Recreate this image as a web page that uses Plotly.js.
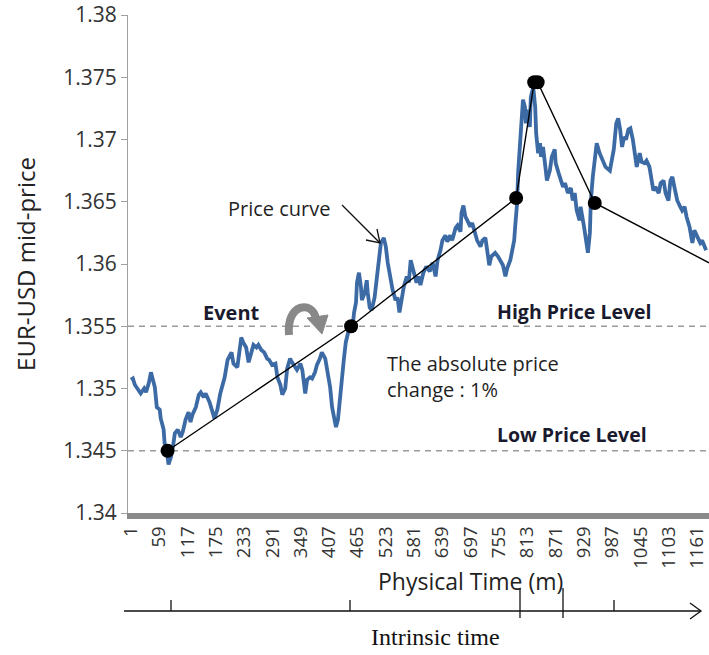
<!DOCTYPE html>
<html><head><meta charset="utf-8">
<script src="https://cdn.plot.ly/plotly-3.0.1.min.js"></script>
<style>html,body{margin:0;padding:0;background:#fff}#chart{width:709px;height:655px}</style>
</head><body><div id="chart"></div>
<script>
// Physical time (minutes) and EUR-USD mid-price
const minutes = [1,5,9,15,21,28,32,38,42,46,50,54,60,62,68,70,74,78,83,87,91,97,103,107,113,119,123,127,134,140,144,150,154,162,168,172,178,184,193,199,
207,211,219,223,227,231,237,242,248,252,258,262,268,274,280,284,290,297,301,307,311,317,321,327,331,337,341,348,352,358,362,368,372,378,382,388,392,399,403,409,413,417,
421,425,431,433,437,441,446,452,454,458,462,464,468,472,474,480,484,486,490,494,500,505,509,513,519,523,527,533,537,543,547,551,555,560,566,570,574,580,586,590,594,600,606,613,619,
625,629,635,639,645,649,655,659,666,670,676,678,682,686,690,696,700,706,710,717,721,727,731,735,739,747,753,759,763,768,772,778,782,786,788,792,
794,798,800,804,808,810,814,818,820,825,829,831,835,839,841,845,849,853,859,863,869,871,877,882,886,890,896,902,906,910,914,920,922,929,933,937,941,943,947,951,955,961,967,973,
982,986,990,995,999,1003,1007,1011,1015,1020,1024,1029,1033,1037,1043,1047,1053,1057,1063,1067,1071,1075,1082,1086,1092,1096,1102,1106,1110,1114,1120,1126,1130,1135,1139,1145,1147,1151,1155,1161,1167,1171,1175,1179];
const midPrice = [1.3507,1.3508,1.3503,1.3499,1.3496,1.3500,1.3497,1.3505,1.3513,1.3507,1.3501,1.3485,1.3483,1.3476,1.3467,1.3456,1.3451,1.3439,1.3445,1.3453,1.3464,1.3467,1.3461,1.3465,1.3475,1.3481,1.3473,1.3479,1.3485,1.3495,1.3497,1.3493,1.3496,1.3489,1.3480,1.3476,1.3483,1.3496,1.3509,1.3523,
1.3529,1.3520,1.3517,1.3531,1.3541,1.3537,1.3533,1.3521,1.3529,1.3535,1.3533,1.3535,1.3531,1.3529,1.3524,1.3523,1.3519,1.3520,1.3509,1.3503,1.3495,1.3500,1.3516,1.3524,1.3521,1.3517,1.3515,1.3520,1.3515,1.3496,1.3507,1.3509,1.3508,1.3513,1.3519,1.3524,1.3529,1.3524,1.3515,1.3501,1.3485,1.3477,
1.3469,1.3475,1.3501,1.3512,1.3523,1.3537,1.3545,1.3549,1.3545,1.3561,1.3569,1.3585,1.3593,1.3582,1.3571,1.3577,1.3587,1.3577,1.3565,1.3563,1.3573,1.3590,1.3603,1.3617,1.3621,1.3614,1.3601,1.3587,1.3579,1.3571,1.3573,1.3561,1.3571,1.3582,1.3590,1.3585,1.3603,1.3593,1.3585,1.3590,1.3583,1.3593,1.3598,1.3594,1.3601,
1.3590,1.3603,1.3611,1.3619,1.3623,1.3618,1.3623,1.3619,1.3629,1.3631,1.3626,1.3641,1.3647,1.3638,1.3635,1.3630,1.3633,1.3625,1.3619,1.3614,1.3619,1.3621,1.3611,1.3599,1.3606,1.3609,1.3606,1.3602,1.3599,1.3590,1.3597,1.3603,1.3611,1.3619,1.3630,1.3649,
1.3673,1.3697,1.3718,1.3732,1.3726,1.3713,1.3724,1.3710,1.3734,1.3742,1.3726,1.3705,1.3689,1.3697,1.3686,1.3694,1.3681,1.3667,1.3675,1.3686,1.3692,1.3681,1.3673,1.3667,1.3662,1.3665,1.3657,1.3661,1.3651,1.3657,1.3643,1.3635,1.3646,1.3630,1.3619,1.3609,1.3625,1.3651,1.3670,1.3686,1.3697,1.3689,1.3683,1.3678,
1.3675,1.3683,1.3692,1.3713,1.3717,1.3708,1.3694,1.3702,1.3700,1.3708,1.3709,1.3700,1.3686,1.3678,1.3689,1.3682,1.3681,1.3683,1.3678,1.3670,1.3659,1.3662,1.3657,1.3665,1.3667,1.3657,1.3651,1.3667,1.3670,1.3662,1.3651,1.3646,1.3643,1.3646,1.3638,1.3630,1.3625,1.3617,1.3627,1.3622,1.3617,1.3619,1.3614,1.3611];

// directional-change events (black dots) and the line joining them
const eventMinutes = [76, 452, 790, 827, 834, 951];
const eventPrices = [1.345, 1.355, 1.3653, 1.3746, 1.3746, 1.3649];
const trendMinutes = [76, 452, 790, 827, 834, 951, 1185];
const trendPrices = [1.345, 1.355, 1.3653, 1.3746, 1.3746, 1.3649, 1.3601];

const highPriceLevel = 1.355;
const lowPriceLevel = 1.345;

const xTickVals = [1,59,117,175,233,291,349,407,465,523,581,639,697,755,813,871,929,987,1045,1103,1161];
const yTickVals = [1.34,1.345,1.35,1.355,1.36,1.365,1.37,1.375,1.38];
const yTickText = ['1.34','1.345','1.35','1.355','1.36','1.365','1.37','1.375','1.38'];

// ---- layout helpers (pixel -> paper) ----
const L = 128, W = 581, B = 513, H = 498;
const px = x => (x - L) / W;
const py = y => (B - y) / H;
const pt = (x, y) => px(x).toFixed(5) + ',' + py(y).toFixed(5);
const FONT = 'Open Sans, sans-serif';
const TXT = '#1f1f1f';

const traces = [
  {x: minutes, y: midPrice, type: 'scatter', mode: 'lines',
   line: {color: '#3c6aa5', width: 3.8}, hoverinfo: 'skip', showlegend: false},
  {x: trendMinutes, y: trendPrices, type: 'scatter', mode: 'lines',
   line: {color: '#000', width: 1.4}, hoverinfo: 'skip', showlegend: false},
  {x: eventMinutes, y: eventPrices, type: 'scatter', mode: 'markers',
   marker: {color: '#000', size: 14}, hoverinfo: 'skip', showlegend: false}
];

function ann(text, x, y, opts) {
  return Object.assign({text: text, x: px(x), y: py(y), xref: 'paper', yref: 'paper',
    showarrow: false, xanchor: 'center', yanchor: 'middle',
    font: {family: FONT, size: 20, color: TXT}}, opts || {});
}

const annotations = [
  ann('Price curve', 279, 208, {font: {family: FONT, size: 20, color: TXT}}),
  ann('<b>Event</b>', 231, 312, {font: {family: FONT, size: 20, color: '#1a1a2e'}}),
  ann('<b>High Price Level</b>', 574, 311, {font: {family: FONT, size: 19.5, color: '#1a1a2e'}}),
  ann('<b>Low Price Level</b>', 572, 434, {font: {family: FONT, size: 19.5, color: '#1a1a2e'}}),
  ann('The absolute price<br>change : 1%', 385, 376, {xanchor: 'left', align: 'left',
    font: {family: FONT, size: 20, color: TXT}}),
  ann('Physical Time (m)', 470, 581, {font: {family: FONT, size: 23, color: '#222'}}),
  ann('Intrinsic time', 435, 637, {font: {family: 'Liberation Serif, Times New Roman, serif', size: 24, color: '#111'}})
];

const shapes = [
  {type: 'line', xref: 'paper', x0: 0, x1: 1, yref: 'y', y0: highPriceLevel, y1: highPriceLevel,
   line: {color: '#9a9a9a', width: 1.3, dash: '6px,5px'}, layer: 'below'},
  {type: 'line', xref: 'paper', x0: 0, x1: 1, yref: 'y', y0: lowPriceLevel, y1: lowPriceLevel,
   line: {color: '#9a9a9a', width: 1.3, dash: '6px,5px'}, layer: 'below'},
  // price curve pointer
  {type: 'path', xref: 'paper', yref: 'paper', path: 'M' + pt(342, 205) + ' L' + pt(380, 243),
   line: {color: '#111', width: 1.3}},
  {type: 'path', xref: 'paper', yref: 'paper', path: 'M' + pt(366, 240) + ' L' + pt(380, 243) + ' L' + pt(377, 229),
   line: {color: '#111', width: 1.3}},
  // curved event arrow
  {type: 'path', xref: 'paper', yref: 'paper',
   path: 'M' + pt(289, 335) + ' C' + pt(286, 303) + ' ' + pt(313, 300) + ' ' + pt(316, 319),
   line: {color: '#888888', width: 8}},
  {type: 'path', xref: 'paper', yref: 'paper',
   path: 'M' + pt(307, 318) + ' L' + pt(328, 315) + ' L' + pt(322, 334) + ' Z',
   fillcolor: '#888888', line: {color: '#888888', width: 1}},
  // intrinsic time axis
  {type: 'path', xref: 'paper', yref: 'paper', path: 'M' + pt(124, 611) + ' L' + pt(700, 611),
   line: {color: '#111', width: 1.3}},
  {type: 'path', xref: 'paper', yref: 'paper', path: 'M' + pt(690, 603) + ' L' + pt(701, 611) + ' L' + pt(690, 619),
   line: {color: '#111', width: 1.3}},
  {type: 'path', xref: 'paper', yref: 'paper', path: 'M' + pt(171, 600) + ' L' + pt(171, 611), line: {color: '#111', width: 1.3}},
  {type: 'path', xref: 'paper', yref: 'paper', path: 'M' + pt(350, 600) + ' L' + pt(350, 611), line: {color: '#111', width: 1.3}},
  {type: 'path', xref: 'paper', yref: 'paper', path: 'M' + pt(520, 588) + ' L' + pt(520, 618), line: {color: '#111', width: 1.3}},
  {type: 'path', xref: 'paper', yref: 'paper', path: 'M' + pt(563, 588) + ' L' + pt(563, 618), line: {color: '#111', width: 1.3}},
  {type: 'path', xref: 'paper', yref: 'paper', path: 'M' + pt(614, 600) + ' L' + pt(614, 611), line: {color: '#111', width: 1.3}}
];

const layout = {
  width: 709, height: 655,
  margin: {l: L, r: 709 - L - W, t: 15, b: 655 - B, pad: 0},
  paper_bgcolor: '#fff', plot_bgcolor: '#fff',
  showlegend: false,
  xaxis: {
    range: [-5, 1185], tickmode: 'array', tickvals: xTickVals, ticktext: xTickVals.map(String),
    tickangle: -90, tickfont: {family: FONT, size: 18.5, color: '#333'}, ticklabeloverflow: 'allow',
    showline: true, linecolor: '#8a8a8a', linewidth: 6, ticks: '', showgrid: false, zeroline: false,
    automargin: false, fixedrange: true
  },
  yaxis: {
    range: [1.34, 1.38], tickmode: 'array', tickvals: yTickVals, ticktext: yTickText,
    tickfont: {family: FONT, size: 21, color: '#333'},
    showline: true, linecolor: '#a0a0a0', linewidth: 1, ticks: 'outside', ticklen: 6, tickcolor: '#a0a0a0',
    showgrid: false, zeroline: false, automargin: false, fixedrange: true,
    title: {text: 'EUR-USD mid-price', font: {family: FONT, size: 24, color: '#222'}, standoff: 20}
  },
  annotations: annotations,
  shapes: shapes
};

Plotly.newPlot('chart', traces, layout, {displayModeBar: false, staticPlot: true});
</script>
</body></html>
